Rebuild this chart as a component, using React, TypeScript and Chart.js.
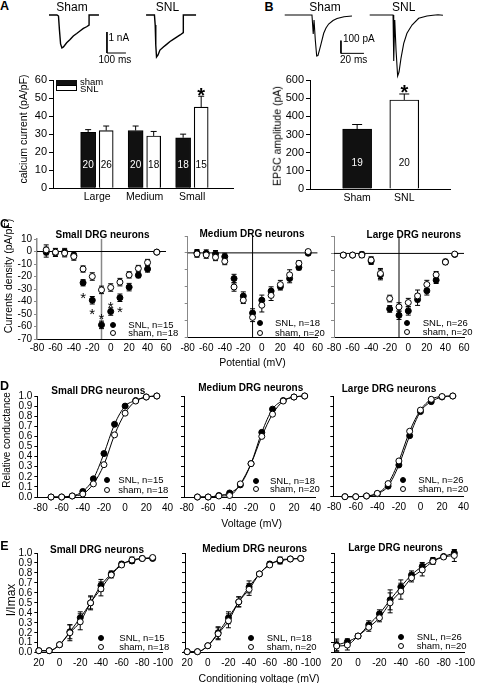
import React, { useEffect, useRef } from "react";
import { Chart, registerables } from "chart.js";

Chart.register(...registerables);

const FONT = "'Liberation Sans', Arial, Helvetica, sans-serif";

// ---------------- Panel A : calcium current bars ----------------
const sizeGroups = ["Large", "Medium", "Small"];
const caShamMean = [31, 32, 28];
const caShamSem = [1.5, 2.5, 2];
const caSnlMean = [32, 29, 45];
const caSnlSem = [2.5, 2.5, 6];
const caShamN = ["20", "20", "18"];
const caSnlN = ["26", "18", "15"];

// Panel A example traces (time ms, current nA)
const traceAShamT = [21, 63, 71, 76, 82, 89, 97, 114, 132, 149, 167, 184, 202, 219, 232, 232, 284];
const traceAShamI = [0, 0, -0.05, -0.71, -1.38, -1.57, -1.52, -1.32, -1.17, -1.0, -0.88, -0.76, -0.64, -0.56, -0.48, 0, 0];
const traceASnlT = [532, 576, 580, 583, 587, 595, 605, 623, 640, 658, 675, 693, 711, 728, 728, 795];
const traceASnlI = [0, 0, -0.48, -1.43, -2.0, -1.9, -1.67, -1.52, -1.4, -1.26, -1.16, -1.05, -0.95, -0.84, 0, 0];
const scaleBarAT = [326, 326, 426];
const scaleBarAI = [-0.81, -1.81, -1.81];

// ---------------- Panel B : EPSC bars ----------------
const epscGroups = ["Sham", "SNL"];
const epscMean = [330, 490];
const epscSem = [25, 33];
const epscN = ["19", "20"];

// Panel B example traces (time ms, current pA)
const traceBShamT = [4.1, 27.8, 28.9, 29.6, 30.7, 31.9, 33.0, 34.3, 35.7, 38.0, 40.0, 42.3, 46.1, 49.6, 55.7, 62.6];
const traceBShamI = [0, 0, -150, -39, -197, -323, -319, -276, -228, -144, -102, -71, -43, -28, -14, -8];
const traceBSnlT = [78, 98.3, 98.9, 99.8, 100.9, 102.3, 103.5, 105.2, 107.6, 110.4, 114.8, 120.6, 127.8, 133, 137.4, 141.7];
const traceBSnlI = [0, 0, -362, -39, -276, -480, -449, -341, -223, -144, -79, -26, -8, -2, 2, -2];
const scaleBarBT = [53, 53, 73];
const scaleBarBI = [-202, -302, -302];

// ---------------- Panel C : I-V ----------------
const voltsC = [-70, -60, -50, -40, -30, -20, -10, 0, 10, 20, 30, 40, 50];
const smallIVSham = [1.3, -0.5, -1.3, -4, -14, -20, -30.7, -28.8, -24.5, -18.7, -13.6, -8.8, -0.5];
const smallIVShamErr = [4, 3, 3, 3, 2.5, 3, 3, 3, 3, 2.5, 2.5, 2.5, 1];
const smallIVSnl = [-0.5, -1, -0.5, -3, -25, -39, -58.7, -48, -37, -28.5, -19, -14, -0.5];
const smallIVSnlErr = [4, 3, 3, 3, 2.5, 3, 3, 3, 3, 3, 2, 2.5, 1];
const smallIVStarV = [-30, -20, -10, 0, 10];
const smallIVStarY = [-33.9, -47.2, -50.7, -41.3, -45];
const medIVSham = [-0.6, -1.2, -2.6, -5, -20.2, -28, -38.2, -31, -25.2, -18.8, -13, -6.2, 0.8];
const medIVShamErr = [2, 2, 2, 2, 2.5, 2, 2.5, 4, 3, 2.5, 3, 1.5, 1];
const medIVSnl = [0, -0.2, -0.6, -2.2, -15.2, -25.6, -35.6, -28, -22.6, -20, -15.2, -8.6, -0.2];
const medIVSnlErr = [2, 2, 2, 2, 2.5, 2.5, 2.5, 3, 2.5, 2, 2.5, 1.5, 1];
const largeIVSham = [-1, -1, -1, -4, -12, -27, -32, -29.4, -25.4, -18.6, -12.8, -5.2, -0.4];
const largeIVShamErr = [1, 1, 1.5, 2, 3, 2, 2.5, 2.5, 3.5, 2.5, 2, 1.5, 1];
const largeIVSnl = [-1, -1, -0.6, -4.6, -12.8, -33.2, -37, -34.4, -27.6, -22.4, -16, -5, -0.6];
const largeIVSnlErr = [1, 1, 1.5, 2, 3, 2, 2.5, 2.5, 3.5, 2.5, 2, 1.5, 1];

// ---------------- Panel D : activation ----------------
const voltsD = [-70, -60, -50, -40, -30, -20, -10, 0, 10, 20, 30];
const smallActSnl = [0, 0, 0.01, 0.055, 0.18, 0.43, 0.72, 0.9, 0.955, 0.99, 1.0];
const smallActSham = [0, 0, 0.01, 0.03, 0.13, 0.32, 0.615, 0.83, 0.95, 0.99, 1.0];
const medActSnl = [0, 0, 0.015, 0.04, 0.12, 0.33, 0.64, 0.87, 0.955, 0.99, 1.0];
const medActSham = [0, 0, 0.01, 0.015, 0.13, 0.33, 0.6, 0.82, 0.95, 0.99, 1.0];
const largeActSnl = [0, 0, 0.007, 0.03, 0.105, 0.315, 0.606, 0.845, 0.944, 0.99, 1.0];
const largeActSham = [0, 0, 0.007, 0.033, 0.13, 0.355, 0.65, 0.86, 0.967, 0.995, 1.0];

// ---------------- Panel E : inactivation ----------------
const voltsE = [20, 10, 0, -10, -20, -30, -40, -50, -60, -70, -80, -90];
const smallInSnl = [0.02, 0.02, 0.08, 0.21, 0.35, 0.5, 0.675, 0.79, 0.89, 0.92, 0.945, 0.945];
const smallInSnlErr = [0.01, 0.01, 0.01, 0.07, 0.06, 0.06, 0.06, 0.03, 0.02, 0.02, 0.02, 0.02];
const smallInSham = [0.02, 0.02, 0.08, 0.2, 0.31, 0.5, 0.64, 0.78, 0.88, 0.93, 0.945, 0.955];
const smallInShamErr = [0.01, 0.01, 0.01, 0.08, 0.08, 0.07, 0.07, 0.03, 0.02, 0.03, 0.02, 0.02];
const medInSnl = [0.01, 0.01, 0.07, 0.2, 0.35, 0.51, 0.66, 0.79, 0.89, 0.92, 0.94, 0.945];
const medInSnlErr = [0.01, 0.01, 0.01, 0.06, 0.06, 0.05, 0.06, 0.02, 0.02, 0.03, 0.02, 0.02];
const medInSham = [0.01, 0.01, 0.07, 0.19, 0.32, 0.51, 0.635, 0.79, 0.88, 0.93, 0.94, 0.945];
const medInShamErr = [0.01, 0.01, 0.01, 0.06, 0.07, 0.05, 0.06, 0.02, 0.02, 0.03, 0.02, 0.02];
const largeInSnl = [0.077, 0.11, 0.167, 0.28, 0.39, 0.53, 0.66, 0.78, 0.865, 0.925, 0.965, 1.0];
const largeInSnlErr = [0.06, 0.03, 0.02, 0.04, 0.04, 0.1, 0.07, 0.04, 0.04, 0.03, 0.02, 0.03];
const largeInSham = [0.067, 0.077, 0.167, 0.255, 0.35, 0.5, 0.617, 0.75, 0.83, 0.915, 0.96, 0.975];
const largeInShamErr = [0.05, 0.05, 0.02, 0.04, 0.04, 0.1, 0.08, 0.04, 0.06, 0.03, 0.02, 0.06];

// legend numbers
const neuronTypes = ["Small", "Medium", "Large"];
const snlCounts = [15, 18, 26];
const shamCounts = [18, 20, 20];

// ---------------- helpers ----------------
type Rect = { x: number; y: number; w: number; h: number };
type Area = { l: number; t: number; r: number; b: number };

function frame(c: Rect, a: Area) {
  return {
    padding: { top: a.t - c.y, right: c.x + c.w - a.r, left: 0, bottom: 0 },
    yW: a.l - c.x,
    xH: c.y + c.h - a.b,
  };
}

const pts = (xs: number[], ys: number[]) => xs.map((x, i) => ({ x, y: ys[i] }));

function extras(o: any) {
  return {
    id: "extras",
    beforeDatasetsDraw(chart: any) {
      const { ctx, chartArea: a, scales } = chart;
      ctx.save();
      for (const l of o.vLines || []) {
        const px = scales.x.getPixelForValue(l.value);
        ctx.strokeStyle = l.color;
        ctx.lineWidth = l.width;
        ctx.beginPath();
        ctx.moveTo(px, a.top);
        ctx.lineTo(px, a.bottom);
        ctx.stroke();
      }
      for (const l of o.hLines || []) {
        const py = scales.y.getPixelForValue(l.value);
        ctx.strokeStyle = l.color;
        ctx.lineWidth = l.width;
        ctx.beginPath();
        ctx.moveTo(a.left, py);
        ctx.lineTo(a.right, py);
        ctx.stroke();
      }
      chart.data.datasets.forEach((ds: any) => {
        if (!ds.err) return;
        const cap = ds.errCap || 2.5;
        ds.data.forEach((d: any, i: number) => {
          const e = ds.err[i];
          if (!e) return;
          const px = scales.x.getPixelForValue(d.x);
          const y1 = scales.y.getPixelForValue(d.y + e);
          const y2 = scales.y.getPixelForValue(d.y - e);
          ctx.strokeStyle = "#000";
          ctx.lineWidth = 1;
          ctx.beginPath();
          ctx.moveTo(px, y1);
          ctx.lineTo(px, y2);
          ctx.moveTo(px - cap, y1);
          ctx.lineTo(px + cap, y1);
          ctx.moveTo(px - cap, y2);
          ctx.lineTo(px + cap, y2);
          ctx.stroke();
        });
      });
      ctx.restore();
    },
    afterDatasetsDraw(chart: any) {
      const { ctx, scales } = chart;
      ctx.save();
      chart.data.datasets.forEach((ds: any, di: number) => {
        const meta = chart.getDatasetMeta(di);
        if (ds.errUp) {
          meta.data.forEach((el: any, i: number) => {
            const yTop = scales.y.getPixelForValue(ds.data[i].y + ds.errUp[i]);
            const cap = ds.errCap || 3;
            ctx.strokeStyle = "#000";
            ctx.lineWidth = 1;
            ctx.beginPath();
            ctx.moveTo(el.x, el.y);
            ctx.lineTo(el.x, yTop);
            ctx.moveTo(el.x - cap, yTop);
            ctx.lineTo(el.x + cap, yTop);
            ctx.stroke();
          });
        }
        if (ds.nLabels) {
          ctx.font = `10px ${FONT}`;
          ctx.textAlign = "center";
          ctx.textBaseline = "middle";
          ctx.fillStyle = ds.nColor;
          meta.data.forEach((el: any, i: number) => {
            ctx.fillText(ds.nLabels[i], el.x, scales.y.getPixelForValue(ds.nValue));
          });
        }
      });
      for (const s of o.stars || []) {
        ctx.font = `${s.bold ? "bold " : ""}${s.size}px ${FONT}`;
        ctx.textAlign = "center";
        ctx.textBaseline = "alphabetic";
        ctx.fillStyle = "#000";
        ctx.fillText("*", scales.x.getPixelForValue(s.x), scales.y.getPixelForValue(s.y) + 0.585 * s.size);
      }
      ctx.restore();
    },
  };
}

function baseOptions(padding: any) {
  return {
    animation: false,
    responsive: false,
    devicePixelRatio: 1,
    events: [],
    layout: { padding },
    plugins: { legend: { display: false }, tooltip: { enabled: false }, title: { display: false } },
  };
}

function scatterCfg(p: any) {
  const f = frame(p.canvas, p.area);
  return {
    type: "scatter",
    data: { datasets: p.datasets },
    options: {
      ...baseOptions(f.padding),
      scales: {
        x: {
          type: "linear",
          min: p.xMin,
          max: p.xMax,
          reverse: !!p.xReverse,
          afterFit: (s: any) => {
            s.height = f.xH;
          },
          ticks: {
            stepSize: 20,
            includeBounds: false,
            autoSkip: false,
            maxRotation: 0,
            padding: p.xPad,
            color: "#000",
            font: { family: FONT, size: 10 },
          },
          grid: { display: false, drawTicks: false },
          border: { display: true, color: "#000", width: 1 },
        },
        y: {
          type: "linear",
          min: p.yMin,
          max: p.yMax,
          afterFit: (s: any) => {
            s.width = f.yW;
          },
          ticks: {
            stepSize: p.yStep,
            display: p.yLabels,
            includeBounds: false,
            autoSkip: false,
            padding: 2,
            color: "#000",
            font: { family: FONT, size: 10 },
            callback: p.yFmt || ((v: any) => String(v)),
          },
          grid: {
            display: true,
            drawOnChartArea: false,
            drawTicks: true,
            tickLength: 3,
            color: p.yAxisColor || "#000",
            lineWidth: 1,
          },
          border: { display: true, color: p.yAxisColor || "#000", width: p.yAxisWidth || 1 },
        },
      },
    },
    plugins: [extras(p)],
  };
}

function barCfg(p: any) {
  const f = frame(p.canvas, p.area);
  return {
    type: "bar",
    data: { datasets: p.datasets },
    options: {
      ...baseOptions(f.padding),
      scales: {
        x: {
          type: "linear",
          min: p.xMin,
          max: p.xMax,
          offset: false,
          afterFit: (s: any) => {
            s.height = f.xH;
          },
          afterBuildTicks: (s: any) => {
            s.ticks = p.xNames.map((_: string, i: number) => ({ value: i + 1 }));
          },
          ticks: {
            autoSkip: false,
            maxRotation: 0,
            padding: 3,
            color: "#000",
            font: { family: FONT, size: 10.5 },
            callback: (_v: any, i: number) => p.xNames[i],
          },
          grid: { display: false, drawTicks: false },
          border: { display: true, color: "#000", width: 1 },
        },
        y: {
          type: "linear",
          min: p.yMin,
          max: p.yMax,
          afterFit: (s: any) => {
            s.width = f.yW;
          },
          ticks: { stepSize: p.yStep, padding: 2, color: "#000", font: { family: FONT, size: 11 } },
          grid: { display: true, drawOnChartArea: false, drawTicks: true, tickLength: 4, color: "#000" },
          border: { display: true, color: "#000", width: 1 },
        },
      },
    },
    plugins: [extras(p)],
  };
}

function traceCfg(p: any) {
  return {
    type: "line",
    data: { datasets: p.datasets },
    options: {
      ...baseOptions(0),
      scales: {
        x: { type: "linear", display: false, min: p.xMin, max: p.xMax },
        y: { type: "linear", display: false, min: p.yMin, max: p.yMax },
      },
    },
  };
}

const traceDs = (xs: number[], ys: number[], w: number) => ({
  data: pts(xs, ys),
  borderColor: "#000",
  borderWidth: w,
  pointRadius: 0,
  tension: 0,
  clip: false,
  fill: false,
});

const shamDs = (xs: number[], ys: number[], err?: number[], line?: boolean) => ({
  data: pts(xs, ys),
  err,
  pointRadius: 3,
  pointBackgroundColor: "#fff",
  pointBorderColor: "#000",
  pointBorderWidth: 1,
  showLine: !!line,
  borderColor: "#000",
  borderWidth: 1,
  cubicInterpolationMode: "monotone",
  clip: false,
});
const snlDs = (xs: number[], ys: number[], err?: number[], line?: boolean) => ({
  data: pts(xs, ys),
  err,
  pointRadius: 3,
  pointBackgroundColor: "#000",
  pointBorderColor: "#000",
  pointBorderWidth: 1,
  showLine: !!line,
  borderColor: "#000",
  borderWidth: 1,
  cubicInterpolationMode: "monotone",
  clip: false,
});

function ChartBox({ rect, make }: { rect: Rect; make: () => any }) {
  const ref = useRef<HTMLCanvasElement>(null);
  useEffect(() => {
    const c = new Chart(ref.current as HTMLCanvasElement, make());
    return () => c.destroy();
  }, []);
  return (
    <canvas
      ref={ref}
      width={rect.w}
      height={rect.h}
      style={{ position: "absolute", left: rect.x, top: rect.y, width: rect.w, height: rect.h }}
    />
  );
}

function Txt({ x, y, children, size = 10, bold = false, anchor = "center", rotate = false }: any) {
  const tf = rotate
    ? "translate(-50%,-50%) rotate(-90deg)"
    : anchor === "center"
    ? "translate(-50%,-50%)"
    : "translateY(-50%)";
  return (
    <div
      style={{
        position: "absolute",
        left: x,
        top: y,
        transform: tf,
        fontSize: size,
        fontWeight: bold ? "bold" : "normal",
        lineHeight: 1,
        whiteSpace: "nowrap",
        fontFamily: FONT,
        color: "#000",
      }}
    >
      {children}
    </div>
  );
}

function Legend({ mx, y1, y2, tx, idx }: any) {
  const dot = (y: number, filled: boolean) => (
    <div
      style={{
        position: "absolute",
        left: mx - 3,
        top: y - 3,
        width: 6,
        height: 6,
        boxSizing: "border-box",
        borderRadius: "50%",
        border: "1px solid #000",
        background: filled ? "#000" : "#fff",
      }}
    />
  );
  return (
    <>
      {dot(y1, true)}
      {dot(y2, false)}
      <Txt x={tx} y={y1} size={9.5} anchor="left">{`SNL, n=${snlCounts[idx]}`}</Txt>
      <Txt x={tx} y={y2} size={9.5} anchor="left">{`sham, n=${shamCounts[idx]}`}</Txt>
    </>
  );
}

// ---------------- chart definitions ----------------
const GROUP_OFF = 0.19;

const rA: Rect = { x: 0, y: 68, w: 242, h: 140 };
const makeA = () =>
  barCfg({
    canvas: rA,
    area: { l: 53, t: 80, r: 233, b: 188.3 },
    xMin: 0.07,
    xMax: 3.86,
    xNames: sizeGroups,
    yMin: 0,
    yMax: 60,
    yStep: 10,
    stars: [{ x: 3 + GROUP_OFF, y: 54.5, size: 20, bold: true }],
    datasets: [
      {
        data: caShamMean.map((v, i) => ({ x: i + 1 - GROUP_OFF, y: v })),
        backgroundColor: "#111",
        borderColor: "#000",
        borderWidth: 1,
        grouped: false,
        barPercentage: 1,
        categoryPercentage: 1,
        maxBarThickness: 15,
        errUp: caShamSem,
        errCap: 3,
        nLabels: caShamN,
        nColor: "#fff",
        nValue: 12.5,
      },
      {
        data: caSnlMean.map((v, i) => ({ x: i + 1 + GROUP_OFF, y: v })),
        backgroundColor: "#fff",
        borderColor: "#000",
        borderWidth: 1.2,
        grouped: false,
        barPercentage: 1,
        categoryPercentage: 1,
        maxBarThickness: 14,
        errUp: caSnlSem,
        errCap: 3,
        nLabels: caSnlN,
        nColor: "#000",
        nValue: 12.5,
      },
    ],
  });

const rB: Rect = { x: 240, y: 68, w: 237, h: 140 };
const makeB = () =>
  barCfg({
    canvas: rB,
    area: { l: 310, t: 80, r: 450, b: 189 },
    xMin: 0,
    xMax: 2.97,
    xNames: epscGroups,
    yMin: 0,
    yMax: 600,
    yStep: 100,
    stars: [{ x: 2, y: 560, size: 20, bold: true }],
    datasets: [
      {
        data: [{ x: 1, y: epscMean[0] }],
        backgroundColor: "#111",
        borderColor: "#000",
        borderWidth: 1,
        grouped: false,
        barPercentage: 1,
        categoryPercentage: 1,
        maxBarThickness: 29,
        errUp: [epscSem[0]],
        errCap: 5,
        nLabels: [epscN[0]],
        nColor: "#fff",
        nValue: 140,
      },
      {
        data: [{ x: 2, y: epscMean[1] }],
        backgroundColor: "#fff",
        borderColor: "#000",
        borderWidth: 1.2,
        grouped: false,
        barPercentage: 1,
        categoryPercentage: 1,
        maxBarThickness: 29,
        errUp: [epscSem[1]],
        errCap: 5,
        nLabels: [epscN[1]],
        nColor: "#000",
        nValue: 140,
      },
    ],
  });

const rTA: Rect = { x: 40, y: 8, w: 165, h: 54 };
const makeTA = () =>
  traceCfg({
    xMin: -26.3,
    xMax: 842.1,
    yMin: -2.238,
    yMax: 0.333,
    datasets: [
      traceDs(traceAShamT, traceAShamI, 1.4),
      traceDs(traceASnlT, traceASnlI, 1.4),
      traceDs(scaleBarAT, scaleBarAI, 1),
    ],
  });

const rTB: Rect = { x: 278, y: 8, w: 170, h: 74 };
const makeTB = () =>
  traceCfg({
    xMin: -1.74,
    xMax: 146.1,
    yMin: -527.6,
    yMax: 55.1,
    datasets: [
      traceDs(traceBShamT, traceBShamI, 1.1),
      traceDs(traceBSnlT, traceBSnlI, 1.1),
      traceDs(scaleBarBT, scaleBarBI, 1),
    ],
  });

// Panel C
const rC1: Rect = { x: 0, y: 228, w: 176, h: 130 };
const makeC1 = () =>
  scatterCfg({
    canvas: rC1,
    area: { l: 37, t: 239, r: 166, b: 339 },
    xMin: -80,
    xMax: 60,
    xPad: 3,
    yMin: -70,
    yMax: 10,
    yStep: 10,
    yLabels: true,
    yAxisColor: "#888",
    yAxisWidth: 1.5,
    vLines: [{ value: -10, color: "#888", width: 1.5 }],
    hLines: [{ value: 0, color: "#000", width: 1 }],
    stars: smallIVStarV.map((v, i) => ({ x: v, y: smallIVStarY[i], size: 15 })),
    datasets: [shamDs(voltsC, smallIVSham, smallIVShamErr), snlDs(voltsC, smallIVSnl, smallIVSnlErr)],
  });
const rC2: Rect = { x: 170, y: 226, w: 158, h: 130 };
const makeC2 = () =>
  scatterCfg({
    canvas: rC2,
    area: { l: 187.7, t: 236, r: 318.6, b: 337.3 },
    xMin: -80,
    xMax: 60,
    xPad: 5,
    yMin: -50,
    yMax: 10,
    yStep: 10,
    yLabels: false,
    yAxisColor: "#888",
    vLines: [{ value: -10, color: "#000", width: 1 }],
    hLines: [{ value: 0, color: "#000", width: 1 }],
    datasets: [shamDs(voltsC, medIVSham, medIVShamErr), snlDs(voltsC, medIVSnl, medIVSnlErr)],
  });
const rC3: Rect = { x: 318, y: 226, w: 159, h: 130 };
const makeC3 = () =>
  scatterCfg({
    canvas: rC3,
    area: { l: 334, t: 236.7, r: 464, b: 337 },
    xMin: -80,
    xMax: 60,
    xPad: 5,
    yMin: -50,
    yMax: 10,
    yStep: 10,
    yLabels: false,
    yAxisColor: "#888",
    vLines: [{ value: -10, color: "#000", width: 1 }],
    hLines: [{ value: 0, color: "#000", width: 1 }],
    datasets: [shamDs(voltsC, largeIVSham, largeIVShamErr), snlDs(voltsC, largeIVSnl, largeIVSnlErr)],
  });

// Panel D
const fmt1 = (v: any) => Number(v).toFixed(1);
const rD1: Rect = { x: 0, y: 386, w: 178, h: 130 };
const makeD1 = () =>
  scatterCfg({
    canvas: rD1,
    area: { l: 37.3, t: 396, r: 170.7, b: 497 },
    xMin: -83,
    xMax: 40,
    xPad: 5,
    yMin: 0,
    yMax: 1,
    yStep: 0.1,
    yLabels: true,
    yFmt: fmt1,
    datasets: [shamDs(voltsD, smallActSham, undefined, true), snlDs(voltsD, smallActSnl, undefined, true)],
  });
const rD2: Rect = { x: 168, y: 386, w: 158, h: 130 };
const makeD2 = () =>
  scatterCfg({
    canvas: rD2,
    area: { l: 184, t: 396, r: 317, b: 497 },
    xMin: -82.5,
    xMax: 40,
    xPad: 5,
    yMin: 0,
    yMax: 1,
    yStep: 0.1,
    yLabels: false,
    datasets: [shamDs(voltsD, medActSham, undefined, true), snlDs(voltsD, medActSnl, undefined, true)],
  });
const rD3: Rect = { x: 318, y: 386, w: 159, h: 130 };
const makeD3 = () =>
  scatterCfg({
    canvas: rD3,
    area: { l: 333.3, t: 396, r: 463.6, b: 496.7 },
    xMin: -80.8,
    xMax: 40,
    xPad: 5,
    yMin: 0,
    yMax: 1,
    yStep: 0.1,
    yLabels: false,
    datasets: [shamDs(voltsD, largeActSham, undefined, true), snlDs(voltsD, largeActSnl, undefined, true)],
  });

// Panel E
const rE1: Rect = { x: 0, y: 543, w: 178, h: 140 };
const makeE1 = () =>
  scatterCfg({
    canvas: rE1,
    area: { l: 37.3, t: 553, r: 170.3, b: 652.7 },
    xMin: -100,
    xMax: 21.5,
    xReverse: true,
    xPad: 5,
    yMin: 0,
    yMax: 1,
    yStep: 0.1,
    yLabels: true,
    yFmt: fmt1,
    datasets: [shamDs(voltsE, smallInSham, smallInShamErr, true), snlDs(voltsE, smallInSnl, smallInSnlErr, true)],
  });
const rE2: Rect = { x: 168, y: 543, w: 158, h: 140 };
const makeE2 = () =>
  scatterCfg({
    canvas: rE2,
    area: { l: 185, t: 553, r: 316.8, b: 652.7 },
    xMin: -100,
    xMax: 22.1,
    xReverse: true,
    xPad: 5,
    yMin: 0,
    yMax: 1,
    yStep: 0.1,
    yLabels: false,
    datasets: [shamDs(voltsE, medInSham, medInShamErr, true), snlDs(voltsE, medInSnl, medInSnlErr, true)],
  });
const rE3: Rect = { x: 318, y: 543, w: 162, h: 140 };
const makeE3 = () =>
  scatterCfg({
    canvas: rE3,
    area: { l: 334, t: 553, r: 467.6, b: 652.7 },
    xMin: -100,
    xMax: 22.5,
    xReverse: true,
    xPad: 5,
    yMin: 0,
    yMax: 1,
    yStep: 0.1,
    yLabels: false,
    datasets: [shamDs(voltsE, largeInSham, largeInShamErr, true), snlDs(voltsE, largeInSnl, largeInSnlErr, true)],
  });

export default function App() {
  const title = (s: string) => `${s} DRG neurons`;
  return (
    <div
      style={{
        position: "absolute",
        left: 0,
        top: 0,
        width: 477,
        height: 683,
        overflow: "hidden",
        background: "#fff",
        fontFamily: FONT,
      }}
    >
      <ChartBox rect={rTA} make={makeTA} />
      <ChartBox rect={rTB} make={makeTB} />
      <ChartBox rect={rA} make={makeA} />
      <ChartBox rect={rB} make={makeB} />
      <ChartBox rect={rC1} make={makeC1} />
      <ChartBox rect={rC2} make={makeC2} />
      <ChartBox rect={rC3} make={makeC3} />
      <ChartBox rect={rD1} make={makeD1} />
      <ChartBox rect={rD2} make={makeD2} />
      <ChartBox rect={rD3} make={makeD3} />
      <ChartBox rect={rE1} make={makeE1} />
      <ChartBox rect={rE2} make={makeE2} />
      <ChartBox rect={rE3} make={makeE3} />

      {/* panel letters */}
      <Txt x={4.5} y={6} size={12.5} bold>A</Txt>
      <Txt x={269} y={6.5} size={12.5} bold>B</Txt>
      <Txt x={4.5} y={224} size={12.5} bold>C</Txt>
      <Txt x={4.5} y={386} size={12.5} bold>D</Txt>
      <Txt x={4.5} y={546} size={12.5} bold>E</Txt>

      {/* trace labels */}
      <Txt x={72} y={7} size={12}>Sham</Txt>
      <Txt x={167.5} y={7} size={12}>SNL</Txt>
      <Txt x={325} y={6.5} size={12}>Sham</Txt>
      <Txt x={403.7} y={6.5} size={12}>SNL</Txt>
      <Txt x={108.5} y={38.3} size={10} anchor="left">1 nA</Txt>
      <Txt x={98.5} y={59.5} size={10} anchor="left">100 ms</Txt>
      <Txt x={343} y={38.8} size={10} anchor="left">100 pA</Txt>
      <Txt x={340} y={59.8} size={10} anchor="left">20 ms</Txt>

      {/* panel A legend */}
      <div style={{ position: "absolute", left: 56, top: 79.5, width: 21, height: 5.5, background: "#111" }} />
      <div
        style={{
          position: "absolute",
          left: 56,
          top: 85,
          width: 21,
          height: 5.5,
          background: "#fff",
          border: "1px solid #000",
          boxSizing: "border-box",
        }}
      />
      <Txt x={80} y={82} size={9.5} anchor="left">sham</Txt>
      <Txt x={80} y={88.5} size={9.5} anchor="left">SNL</Txt>

      {/* axis titles */}
      <Txt x={22.8} y={128.5} size={10.5} rotate>calcium current (pA/pF)</Txt>
      <Txt x={277} y={135.8} size={10.5} rotate>EPSC amplitude (pA)</Txt>
      <Txt x={7.5} y={276} size={10.5} rotate>Currents density (pA/pF)</Txt>
      <Txt x={6.5} y={440} size={10} rotate>Relative conductance</Txt>
      <Txt x={10.5} y={600} size={12} rotate>I/Imax</Txt>
      <Txt x={252.5} y={362} size={10.5}>Potential (mV)</Txt>
      <Txt x={251.7} y={523} size={10.5}>Voltage (mV)</Txt>
      <Txt x={259} y={677.5} size={10.5}>Conditioning voltage (mV)</Txt>

      {/* subplot titles */}
      <Txt x={102.5} y={234.5} size={10} bold>{title(neuronTypes[0])}</Txt>
      <Txt x={252} y={233.7} size={10} bold>{title(neuronTypes[1])}</Txt>
      <Txt x={413.8} y={234.5} size={10} bold>{title(neuronTypes[2])}</Txt>
      <Txt x={98.3} y={390.8} size={10} bold>{title(neuronTypes[0])}</Txt>
      <Txt x={250.8} y={387.8} size={10} bold>{title(neuronTypes[1])}</Txt>
      <Txt x={389} y={388.7} size={10} bold>{title(neuronTypes[2])}</Txt>
      <Txt x={97} y={549.7} size={10} bold>{title(neuronTypes[0])}</Txt>
      <Txt x={254.7} y={548.8} size={10} bold>{title(neuronTypes[1])}</Txt>
      <Txt x={395.5} y={547.5} size={10} bold>{title(neuronTypes[2])}</Txt>

      {/* legends */}
      <Legend mx={113} y1={325} y2={333.3} tx={128.3} idx={0} />
      <Legend mx={260} y1={322.7} y2={332.7} tx={275} idx={1} />
      <Legend mx={406.7} y1={323.3} y2={332.3} tx={422.7} idx={2} />
      <Legend mx={107.3} y1={480} y2={490.3} tx={118.3} idx={0} />
      <Legend mx={255.7} y1={480.7} y2={488.7} tx={270} idx={1} />
      <Legend mx={403.3} y1={480} y2={489.3} tx={418.3} idx={2} />
      <Legend mx={101} y1={638.3} y2={646.7} tx={119.3} idx={0} />
      <Legend mx={250.7} y1={637.7} y2={646.7} tx={266.7} idx={1} />
      <Legend mx={400.7} y1={636.7} y2={646} tx={416.7} idx={2} />
    </div>
  );
}
